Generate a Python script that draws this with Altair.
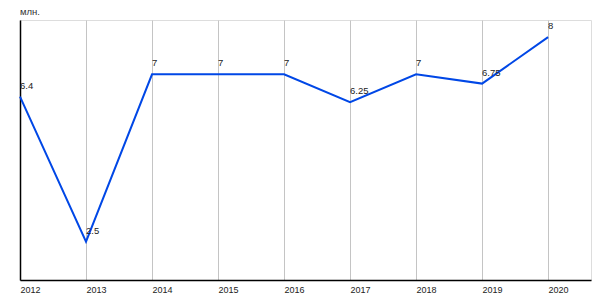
import altair as alt
import pandas as pd

years = [2012, 2013, 2014, 2015, 2016, 2017, 2018, 2019, 2020]
values = [6.4, 2.5, 7, 7, 7, 6.25, 7, 6.75, 8]
labels = ["6.4", "2.5", "7", "7", "7", "6.25", "7", "6.75", "8"]
unit = "млн."

df = pd.DataFrame({"year": years, "value": values, "label": labels})

FONT = "Liberation Sans"

x = alt.X("year:Q",
          scale=alt.Scale(domain=[2012, 2020.65], nice=False, zero=False),
          axis=alt.Axis(values=years, format="d", title=None, labelFontSize=9,
                        labelFont=FONT, labelColor="#222", labelAlign="left",
                        labelPadding=5, ticks=False, grid=True, gridColor="#c4c4c4",
                        gridWidth=1, domainColor="#000", domainWidth=1.5,
                        labelFlush=False, labelOverlap=False))
y = alt.Y("value:Q",
          scale=alt.Scale(domain=[1.47, 8.46], nice=False, zero=False),
          axis=alt.Axis(title=None, labels=False, ticks=False, grid=False,
                        domainColor="#000", domainWidth=1.5))

base = alt.Chart(df)

line = base.mark_line(color="#0047e6", strokeWidth=2).encode(x=x, y=y)
text = base.mark_text(align="left", baseline="alphabetic", dy=-8, fontSize=9.5,
                      font=FONT, color="#222").encode(x="year:Q", y="value:Q", text="label:N")
title = alt.Chart(pd.DataFrame({"t": [unit]})).mark_text(
    align="left", baseline="middle", fontSize=9.5, font=FONT, color="#333"
).encode(x=alt.value(0), y=alt.value(-8), text="t:N")

chart = alt.layer(line, text, title).properties(
    width=571, height=260,
    autosize=alt.AutoSizeParams(type="none"),
    padding={"left": 20, "top": 20, "right": 9, "bottom": 20},
).configure_view(fill="#ebebeb", stroke=None).configure(background="white")

chart.save("out.html", embed_options={"renderer": "svg", "actions": False})
